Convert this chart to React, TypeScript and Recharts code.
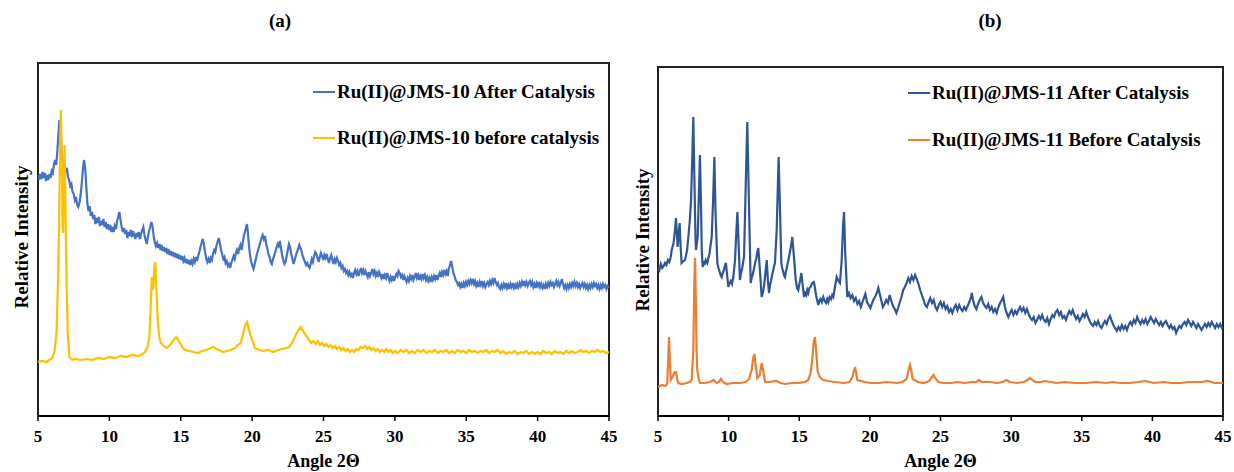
import React from "react";
import { LineChart, Line, XAxis, YAxis, Legend, ReferenceArea } from "recharts";

type Pt = [number, number];

// 2θ ticks shared by both panels
const angleTicks = [5, 10, 15, 20, 25, 30, 35, 40, 45];

// (a) Ru(II)@JMS-10 after catalysis — [2θ, intensity a.u.]
const jms10After: Pt[] = [
  [5.0, 247], [5.08, 242], [5.16, 248], [5.24, 243], [5.32, 250], [5.4, 244], [5.48, 249], [5.56, 241],
  [5.64, 247], [5.72, 242], [5.8, 248], [5.88, 244], [5.96, 251], [6.04, 249], [6.12, 258], [6.2, 262],
  [6.28, 257], [6.36, 272], [6.44, 290], [6.5, 302], [6.56, 296], [6.62, 280], [6.7, 262], [6.78, 252],
  [6.86, 258], [6.94, 250], [7.02, 254], [7.1, 245], [7.18, 242], [7.26, 236], [7.34, 238], [7.42, 230],
  [7.5, 228], [7.58, 222], [7.66, 225], [7.74, 217], [7.82, 215], [7.9, 219], [7.98, 226], [8.06, 238],
  [8.14, 252], [8.22, 262], [8.3, 255], [8.38, 236], [8.46, 218], [8.54, 211], [8.62, 216], [8.7, 206],
  [8.78, 210], [8.86, 203], [8.94, 207], [9.02, 198], [9.1, 204], [9.18, 199], [9.26, 205], [9.34, 196],
  [9.42, 201], [9.5, 197], [9.58, 203], [9.66, 195], [9.74, 200], [9.82, 193], [9.9, 198], [9.98, 192],
  [10.06, 197], [10.14, 190], [10.22, 195], [10.3, 190], [10.38, 196], [10.46, 193], [10.54, 201], [10.62, 205],
  [10.7, 210], [10.78, 202], [10.86, 195], [10.94, 190], [11.02, 194], [11.1, 188], [11.18, 192], [11.26, 184],
  [11.34, 190], [11.42, 186], [11.5, 192], [11.58, 185], [11.66, 191], [11.74, 187], [11.82, 183], [11.9, 189],
  [11.98, 185], [12.06, 190], [12.14, 183], [12.22, 188], [12.3, 192], [12.38, 195], [12.46, 187], [12.54, 182],
  [12.62, 178], [12.7, 185], [12.78, 191], [12.86, 195], [12.94, 200], [13.02, 196], [13.1, 186], [13.18, 180],
  [13.26, 176], [13.34, 179], [13.42, 174], [13.5, 178], [13.58, 172], [13.66, 177], [13.74, 171], [13.82, 175],
  [13.9, 170], [13.98, 174], [14.06, 168], [14.14, 173], [14.22, 167], [14.3, 171], [14.38, 166], [14.46, 170],
  [14.54, 165], [14.62, 169], [14.7, 164], [14.78, 168], [14.86, 163], [14.94, 167], [15.02, 162], [15.1, 166],
  [15.18, 161], [15.26, 164], [15.34, 159], [15.42, 163], [15.5, 158], [15.58, 162], [15.66, 157], [15.74, 161],
  [15.82, 158], [15.9, 163], [15.98, 160], [16.06, 165], [16.14, 161], [16.22, 166], [16.3, 170], [16.38, 175],
  [16.46, 179], [16.54, 183], [16.62, 178], [16.7, 170], [16.78, 164], [16.86, 160], [16.94, 163], [17.02, 159],
  [17.1, 164], [17.18, 162], [17.26, 168], [17.34, 172], [17.42, 170], [17.5, 176], [17.58, 180], [17.66, 184],
  [17.74, 179], [17.82, 172], [17.9, 168], [17.98, 163], [18.06, 165], [18.14, 159], [18.22, 161], [18.3, 156],
  [18.38, 158], [18.46, 154], [18.54, 159], [18.62, 162], [18.7, 166], [18.78, 163], [18.86, 169], [18.94, 172],
  [19.02, 168], [19.1, 174], [19.18, 177], [19.26, 172], [19.34, 179], [19.42, 186], [19.5, 190], [19.58, 195],
  [19.64, 198], [19.7, 190], [19.78, 176], [19.86, 166], [19.94, 160], [20.02, 156], [20.1, 153], [20.18, 158],
  [20.26, 163], [20.34, 168], [20.42, 172], [20.5, 176], [20.58, 180], [20.66, 184], [20.74, 187], [20.82, 183],
  [20.9, 186], [20.98, 178], [21.06, 174], [21.14, 168], [21.22, 165], [21.3, 160], [21.38, 158], [21.46, 163],
  [21.54, 166], [21.62, 170], [21.7, 174], [21.78, 178], [21.86, 176], [21.94, 181], [22.02, 174], [22.1, 167],
  [22.18, 162], [22.26, 158], [22.34, 160], [22.42, 166], [22.5, 172], [22.58, 178], [22.66, 175], [22.74, 168],
  [22.82, 163], [22.9, 158], [22.98, 162], [23.06, 166], [23.14, 170], [23.22, 173], [23.3, 177], [23.38, 174],
  [23.46, 171], [23.54, 166], [23.62, 163], [23.7, 160], [23.78, 157], [23.86, 159], [23.94, 156], [24.02, 154],
  [24.1, 158], [24.18, 163], [24.26, 160], [24.34, 166], [24.42, 170], [24.5, 168], [24.58, 164], [24.66, 160],
  [24.74, 165], [24.82, 169], [24.9, 166], [24.98, 162], [25.06, 167], [25.14, 164], [25.22, 168], [25.3, 163],
  [25.38, 159], [25.46, 164], [25.54, 167], [25.62, 162], [25.7, 158], [25.78, 163], [25.86, 160], [25.94, 164],
  [26.02, 161], [26.1, 157], [26.18, 159], [26.26, 154], [26.34, 156], [26.42, 151], [26.5, 153], [26.58, 149],
  [26.66, 151], [26.74, 147], [26.82, 150], [26.9, 146], [26.98, 148], [27.06, 144], [27.14, 149], [27.22, 152],
  [27.3, 148], [27.38, 151], [27.46, 146], [27.54, 150], [27.62, 154], [27.7, 149], [27.78, 152], [27.86, 147],
  [27.94, 151], [28.02, 148], [28.1, 145], [28.18, 150], [28.26, 146], [28.34, 149], [28.42, 153], [28.5, 148],
  [28.58, 151], [28.66, 146], [28.74, 149], [28.82, 145], [28.9, 150], [28.98, 147], [29.06, 144], [29.14, 148],
  [29.22, 143], [29.3, 147], [29.38, 144], [29.46, 149], [29.54, 145], [29.62, 141], [29.7, 145], [29.78, 142],
  [29.86, 146], [29.94, 141], [30.02, 145], [30.1, 148], [30.18, 146], [30.26, 151], [30.34, 149], [30.42, 145],
  [30.5, 147], [30.58, 142], [30.66, 146], [30.74, 143], [30.82, 140], [30.9, 144], [30.98, 141], [31.06, 146],
  [31.14, 143], [31.22, 147], [31.3, 142], [31.38, 145], [31.46, 149], [31.54, 144], [31.62, 147], [31.7, 142],
  [31.78, 146], [31.86, 143], [31.94, 148], [32.02, 144], [32.1, 147], [32.18, 142], [32.26, 145], [32.34, 141],
  [32.42, 144], [32.5, 140], [32.58, 145], [32.66, 142], [32.74, 146], [32.82, 143], [32.9, 147], [32.98, 142],
  [33.06, 146], [33.14, 149], [33.22, 145], [33.3, 150], [33.38, 147], [33.46, 152], [33.54, 148], [33.62, 151],
  [33.7, 146], [33.78, 153], [33.86, 157], [33.94, 161], [34.02, 155], [34.1, 149], [34.18, 146], [34.26, 142],
  [34.34, 140], [34.42, 137], [34.5, 139], [34.58, 135], [34.66, 138], [34.74, 134], [34.82, 139], [34.9, 136],
  [34.98, 140], [35.06, 137], [35.14, 141], [35.22, 138], [35.3, 142], [35.38, 139], [35.46, 143], [35.54, 138],
  [35.62, 141], [35.7, 136], [35.78, 139], [35.86, 135], [35.94, 140], [36.02, 137], [36.1, 141], [36.18, 136],
  [36.26, 139], [36.34, 135], [36.42, 138], [36.5, 140], [36.58, 137], [36.66, 141], [36.74, 138], [36.82, 142],
  [36.9, 139], [36.98, 144], [37.06, 140], [37.14, 137], [37.22, 139], [37.3, 135], [37.38, 133], [37.46, 137],
  [37.54, 134], [37.62, 138], [37.7, 135], [37.78, 139], [37.86, 134], [37.94, 137], [38.02, 133], [38.1, 138],
  [38.18, 135], [38.26, 139], [38.34, 134], [38.42, 137], [38.5, 133], [38.58, 138], [38.66, 135], [38.74, 139],
  [38.82, 136], [38.9, 140], [38.98, 136], [39.06, 141], [39.14, 137], [39.22, 140], [39.3, 136], [39.38, 139],
  [39.46, 141], [39.54, 137], [39.62, 140], [39.7, 135], [39.78, 138], [39.86, 134], [39.94, 139], [40.02, 136],
  [40.1, 140], [40.18, 135], [40.26, 138], [40.34, 134], [40.42, 137], [40.5, 133], [40.58, 138], [40.66, 135],
  [40.74, 139], [40.82, 136], [40.9, 140], [40.98, 137], [41.06, 139], [41.14, 135], [41.22, 138], [41.3, 141],
  [41.38, 137], [41.46, 140], [41.54, 136], [41.62, 139], [41.7, 143], [41.78, 138], [41.86, 134], [41.94, 137],
  [42.02, 133], [42.1, 137], [42.18, 134], [42.26, 138], [42.34, 135], [42.42, 139], [42.5, 136], [42.58, 140],
  [42.66, 136], [42.74, 139], [42.82, 135], [42.9, 138], [42.98, 134], [43.06, 137], [43.14, 139], [43.22, 135],
  [43.3, 138], [43.38, 134], [43.46, 137], [43.54, 133], [43.62, 137], [43.7, 134], [43.78, 138], [43.86, 135],
  [43.94, 139], [44.02, 136], [44.1, 138], [44.18, 134], [44.26, 137], [44.34, 133], [44.42, 137], [44.5, 134],
  [44.58, 138], [44.66, 135], [44.74, 137], [44.82, 133], [44.9, 136], [45.0, 134],
];

// (a) Ru(II)@JMS-10 before catalysis
const jms10Before: Pt[] = [
  [5.0, 60], [5.3, 61], [5.6, 60], [5.8, 62], [6.0, 64], [6.15, 70], [6.3, 90], [6.4, 140],
  [6.48, 200], [6.55, 280], [6.6, 312], [6.66, 270], [6.72, 200], [6.76, 189], [6.81, 240], [6.86, 277],
  [6.92, 220], [7.0, 139], [7.08, 90], [7.2, 65], [7.4, 62], [7.6, 63], [8.0, 62], [8.4, 63],
  [8.8, 62], [9.2, 64], [9.6, 63], [10.0, 65], [10.4, 64], [10.8, 66], [11.2, 65], [11.6, 67],
  [12.0, 66], [12.3, 68], [12.5, 70], [12.7, 76], [12.8, 85], [12.88, 110], [12.97, 145], [13.03, 132],
  [13.08, 135], [13.15, 155], [13.22, 160], [13.3, 130], [13.4, 99], [13.5, 85], [13.6, 79], [13.8, 76],
  [14.0, 74], [14.25, 77], [14.5, 82], [14.7, 85], [14.9, 80], [15.1, 75], [15.3, 72], [15.6, 71],
  [15.9, 70], [16.2, 69], [16.5, 71], [16.8, 72], [17.1, 74], [17.3, 75], [17.5, 73], [17.8, 71],
  [18.0, 70], [18.2, 71], [18.5, 72], [18.8, 74], [19.0, 77], [19.2, 79], [19.4, 90], [19.55, 98],
  [19.65, 100], [19.75, 94], [19.9, 86], [20.0, 82], [20.2, 74], [20.5, 72], [20.8, 71], [21.1, 72],
  [21.5, 70], [21.8, 72], [22.1, 73], [22.4, 74], [22.6, 75], [22.8, 79], [23.0, 85], [23.2, 91],
  [23.4, 95], [23.6, 90], [23.8, 86], [24.0, 82], [24.15, 79], [24.3, 81], [24.45, 78], [24.6, 81],
  [24.75, 77], [24.9, 79], [25.05, 76], [25.2, 78], [25.35, 75], [25.5, 77], [25.65, 74], [25.8, 76],
  [25.95, 73], [26.1, 75], [26.25, 72], [26.4, 74], [26.55, 71], [26.7, 73], [26.85, 70], [27.0, 72],
  [27.15, 70], [27.3, 73], [27.45, 72], [27.6, 75], [27.75, 74], [27.9, 76], [28.05, 73], [28.2, 75],
  [28.35, 72], [28.5, 74], [28.65, 71], [28.8, 73], [28.95, 70], [29.1, 72], [29.25, 70], [29.4, 73],
  [29.55, 70], [29.7, 72], [29.85, 69], [30.0, 71], [30.2, 69], [30.4, 72], [30.6, 70], [30.8, 72],
  [31.0, 69], [31.2, 71], [31.4, 69], [31.6, 72], [31.8, 70], [32.0, 72], [32.2, 69], [32.4, 71],
  [32.6, 70], [32.8, 72], [33.0, 69], [33.2, 71], [33.4, 70], [33.6, 72], [33.8, 69], [34.0, 71],
  [34.2, 69], [34.4, 72], [34.6, 70], [34.8, 71], [35.0, 69], [35.2, 72], [35.4, 70], [35.6, 71],
  [35.8, 69], [36.0, 71], [36.2, 70], [36.4, 72], [36.6, 69], [36.8, 71], [37.0, 70], [37.2, 72],
  [37.4, 69], [37.6, 71], [37.8, 68], [38.0, 70], [38.2, 69], [38.4, 71], [38.6, 68], [38.8, 70],
  [39.0, 69], [39.2, 71], [39.4, 68], [39.6, 70], [39.8, 68], [40.0, 70], [40.2, 68], [40.4, 71],
  [40.6, 69], [40.8, 70], [41.0, 68], [41.2, 71], [41.4, 69], [41.6, 70], [41.8, 68], [42.0, 71],
  [42.2, 69], [42.4, 71], [42.6, 69], [42.8, 70], [43.0, 72], [43.2, 70], [43.4, 71], [43.6, 69],
  [43.8, 71], [44.0, 70], [44.2, 72], [44.4, 70], [44.6, 71], [44.8, 69], [45.0, 70],
];

// (b) Ru(II)@JMS-11 after catalysis
const jms11After: Pt[] = [
  [5.0, 154], [5.1, 151], [5.2, 157], [5.3, 153], [5.4, 155], [5.5, 158], [5.6, 156], [5.7, 161],
  [5.8, 159], [5.9, 164], [5.97, 171], [6.1, 178], [6.2, 190],
  [6.27, 203], [6.33, 190], [6.39, 174], [6.46, 185], [6.53, 198], [6.6, 175], [6.67, 158], [6.8, 160],
  [6.91, 161], [7.05, 170], [7.15, 184], [7.25, 200], [7.34, 221], [7.42, 260], [7.5, 304], [7.58, 240],
  [7.65, 185], [7.69, 171], [7.75, 178], [7.81, 184], [7.9, 230], [7.97, 266], [8.04, 220], [8.1, 170],
  [8.16, 154], [8.23, 160], [8.3, 156], [8.38, 161], [8.49, 158], [8.57, 163], [8.65, 168], [8.8, 184],
  [8.9, 220], [8.99, 264], [9.07, 210],
  [9.2, 158], [9.28, 153], [9.35, 150], [9.43, 146], [9.51, 144], [9.58, 148], [9.65, 150], [9.73, 155],
  [9.81, 158], [9.9, 145], [9.98, 134], [10.07, 138], [10.15, 140], [10.24, 137],
  [10.33, 144], [10.45, 160], [10.55, 190], [10.62, 209], [10.7, 180], [10.8, 141], [10.88, 148], [10.95, 152],
  [11.02, 158], [11.09, 164], [11.2, 230], [11.32, 299], [11.42, 230], [11.56, 138], [11.63, 143], [11.7, 146],
  [11.76, 150], [11.82, 154], [11.89, 159], [11.95, 162], [12.02, 168], [12.1, 173],
  [12.22, 150], [12.34, 124], [12.45, 130], [12.53, 138], [12.62, 150], [12.7, 161], [12.78, 140], [12.86, 128],
  [12.93, 136], [13.0, 140], [13.08, 146], [13.16, 151], [13.22, 155], [13.28, 158], [13.4, 190], [13.54, 264],
  [13.64, 210], [13.73, 158], [13.79, 153], [13.85, 150], [13.92, 146],
  [13.99, 144], [14.05, 149], [14.1, 152], [14.17, 157], [14.23, 161], [14.3, 166], [14.38, 172], [14.45, 178],
  [14.51, 184], [14.62, 165], [14.75, 141], [14.85, 133],
  [14.93, 131], [15.05, 140], [15.15, 148], [15.25, 135], [15.34, 124], [15.42, 128], [15.5, 126], [15.57, 131],
  [15.64, 128], [15.72, 133], [15.8, 134], [15.92, 138],
  [16.04, 139], [16.2, 125], [16.35, 116], [16.42, 120], [16.5, 122], [16.6, 119], [16.7, 124], [16.8, 120],
  [16.9, 118], [16.98, 122], [17.06, 119], [17.15, 124], [17.25, 122], [17.33, 126],
  [17.41, 124], [17.55, 136], [17.65, 144], [17.78, 140], [17.88, 138], [18.0, 160], [18.1, 195], [18.17, 209],
  [18.25, 170], [18.4, 124], [18.52, 128], [18.64, 123], [18.76, 126], [18.88, 120], [19.0, 123], [19.12, 117],
  [19.24, 120], [19.36, 114], [19.48, 119], [19.6, 124], [19.68, 127], [19.8, 119], [19.92, 116], [20.04, 113],
  [20.16, 118], [20.28, 122], [20.4, 125], [20.52, 129], [20.6, 133], [20.7, 127], [20.8, 121], [20.92, 114],
  [21.04, 117], [21.16, 121], [21.28, 118], [21.4, 126], [21.52, 120], [21.64, 115], [21.76, 112], [21.88, 108],
  [22.0, 113], [22.12, 119], [22.24, 124], [22.36, 131], [22.48, 134], [22.6, 138], [22.72, 143], [22.84, 139],
  [22.96, 145], [23.08, 141], [23.2, 146], [23.32, 142], [23.44, 137], [23.56, 131], [23.68, 126], [23.8, 121],
  [23.92, 116], [24.04, 114], [24.16, 119], [24.28, 123], [24.4, 118], [24.52, 121], [24.64, 114], [24.76, 111],
  [24.88, 116], [25.0, 119], [25.12, 114], [25.24, 118], [25.36, 112], [25.48, 115], [25.6, 109], [25.72, 112],
  [25.84, 108], [25.96, 113], [26.08, 116], [26.2, 111], [26.32, 116], [26.44, 112], [26.56, 110], [26.68, 114],
  [26.8, 111], [26.92, 115], [27.04, 119], [27.16, 124], [27.22, 128], [27.3, 121], [27.42, 115], [27.54, 112],
  [27.66, 117], [27.78, 121], [27.9, 124], [28.02, 118], [28.14, 115], [28.26, 113], [28.38, 117], [28.5, 111],
  [28.62, 114], [28.74, 109], [28.86, 112], [28.98, 108], [29.1, 114], [29.22, 118], [29.34, 121], [29.44, 124],
  [29.56, 114], [29.68, 108], [29.8, 104], [29.92, 108], [30.04, 111], [30.16, 106], [30.28, 110], [30.4, 107],
  [30.52, 111], [30.64, 114], [30.76, 110], [30.88, 113], [31.0, 108], [31.12, 112], [31.24, 107], [31.36, 103],
  [31.48, 101], [31.6, 104], [31.72, 98], [31.84, 101], [31.96, 105], [32.08, 102], [32.2, 106], [32.32, 101],
  [32.44, 99], [32.56, 103], [32.68, 97], [32.8, 102], [32.92, 106], [33.04, 104], [33.16, 109], [33.28, 111],
  [33.4, 106], [33.52, 109], [33.64, 103], [33.76, 105], [33.88, 101], [34.0, 106], [34.12, 110], [34.24, 107],
  [34.36, 111], [34.48, 106], [34.6, 102], [34.72, 105], [34.84, 100], [34.96, 103], [35.08, 107], [35.2, 104],
  [35.32, 109], [35.44, 104], [35.56, 100], [35.68, 97], [35.8, 95], [35.92, 99], [36.04, 96], [36.16, 100],
  [36.28, 95], [36.4, 93], [36.52, 97], [36.64, 100], [36.76, 97], [36.88, 102], [37.0, 105], [37.12, 100],
  [37.24, 96], [37.36, 93], [37.48, 90], [37.6, 94], [37.72, 91], [37.84, 96], [37.96, 92], [38.08, 95],
  [38.2, 91], [38.32, 96], [38.44, 99], [38.56, 96], [38.68, 101], [38.8, 98], [38.92, 104], [39.04, 100],
  [39.16, 97], [39.28, 101], [39.4, 98], [39.52, 102], [39.64, 97], [39.76, 100], [39.88, 104], [40.0, 101],
  [40.12, 98], [40.24, 102], [40.36, 99], [40.48, 96], [40.6, 99], [40.72, 95], [40.84, 98], [40.96, 100],
  [41.08, 96], [41.2, 93], [41.32, 96], [41.44, 92], [41.56, 94], [41.68, 88], [41.8, 92], [41.92, 95],
  [42.04, 93], [42.16, 97], [42.28, 99], [42.4, 96], [42.52, 101], [42.64, 98], [42.76, 95], [42.88, 99],
  [43.0, 96], [43.12, 93], [43.24, 97], [43.36, 94], [43.48, 91], [43.6, 94], [43.72, 97], [43.84, 94],
  [43.96, 98], [44.08, 95], [44.2, 99], [44.32, 96], [44.44, 93], [44.56, 97], [44.68, 94], [44.8, 97],
  [44.92, 93], [45.0, 94],
];

// (b) Ru(II)@JMS-11 before catalysis
const jms11Before: Pt[] = [
  [5.0, 34], [5.3, 36], [5.5, 35], [5.65, 37], [5.72, 60], [5.78, 84], [5.84, 60], [5.9, 41],
  [6.0, 43], [6.09, 46], [6.18, 49], [6.27, 49], [6.36, 42], [6.44, 38], [6.7, 37], [7.03, 38],
  [7.25, 39], [7.38, 41], [7.5, 70], [7.56, 130], [7.62, 163], [7.68, 120], [7.73, 70], [7.78, 51],
  [7.88, 42], [7.97, 38], [8.3, 38], [8.7, 39], [8.92, 41], [9.15, 38], [9.3, 39], [9.46, 42],
  [9.6, 39], [9.86, 37], [10.3, 38], [10.8, 38], [11.2, 39], [11.45, 42], [11.63, 51], [11.73, 62],
  [11.82, 67], [11.92, 55], [12.03, 43], [12.2, 46], [12.34, 58], [12.45, 50], [12.58, 39], [12.9, 39],
  [13.35, 40], [13.7, 38], [14.0, 37], [14.5, 38], [15.0, 38], [15.4, 39], [15.64, 41], [15.8, 48],
  [15.92, 61], [16.02, 78], [16.11, 84], [16.2, 70], [16.3, 50], [16.45, 44], [16.7, 41], [17.06, 40],
  [17.5, 39], [18.2, 38], [18.55, 39], [18.76, 44], [18.87, 50], [18.95, 54], [19.03, 48], [19.11, 41],
  [19.4, 40], [19.65, 39], [20.1, 38], [20.6, 38], [21.2, 39], [21.9, 38], [22.3, 39], [22.6, 42],
  [22.72, 50], [22.84, 56], [22.94, 50], [23.03, 42], [23.4, 39], [23.8, 38], [24.2, 40], [24.4, 44],
  [24.5, 46], [24.62, 43], [24.85, 39], [25.2, 38], [25.7, 38], [26.2, 39], [26.7, 38], [27.2, 39],
  [27.55, 39], [27.7, 41], [27.9, 39], [28.5, 39], [29.0, 38], [29.4, 39], [29.68, 41], [29.9, 39],
  [30.4, 38], [30.9, 39], [31.15, 41], [31.34, 43], [31.5, 41], [31.7, 39], [32.1, 39], [32.4, 40],
  [32.8, 39], [33.2, 38], [33.8, 39], [34.5, 38], [35.3, 38], [36.0, 39], [36.7, 38], [37.2, 39],
  [37.7, 38], [38.4, 38], [39.0, 39], [39.5, 40], [40.1, 38], [40.8, 39], [41.4, 38], [42.0, 38],
  [42.6, 39], [43.0, 39], [43.5, 39], [43.9, 40], [44.4, 38], [45.0, 38],
];

const FONT = "'Liberation Serif', 'Times New Roman', serif";

const toPoints = (arr: Pt[]) => arr.map(([x, y]) => ({ x, y }));

interface SeriesDef {
  name: string;
  color: string;
  data: Pt[];
}

interface PanelProps {
  left: number;
  width: number;
  top: number;
  rightMargin: number;
  yMin: number;
  yMax: number;
  series: SeriesDef[];
  legendLeft: number;
  legendTop: number;
  legendGap: number;
}

function LegendBox({ series, gap }: { series: SeriesDef[]; gap: number }) {
  return (
    <div style={{ fontFamily: FONT, fontWeight: "bold", fontSize: 19, color: "#000" }}>
      {series.map((s, i) => (
        <div
          key={s.name}
          style={{
            display: "flex",
            alignItems: "center",
            height: 24,
            marginBottom: i === 0 ? gap : 0,
            whiteSpace: "nowrap",
          }}
        >
          <span style={{ display: "inline-block", width: 22, height: 0, borderTop: `2.5px solid ${s.color}`, marginRight: 2 }} />
          <span>{s.name}</span>
        </div>
      ))}
    </div>
  );
}

function Panel(p: PanelProps) {
  return (
    <div style={{ position: "absolute", left: p.left, top: 0 }}>
      <LineChart width={p.width} height={472} margin={{ top: p.top, right: p.rightMargin, bottom: 0, left: 38 }}>
        <XAxis
          dataKey="x"
          type="number"
          domain={[5, 45]}
          ticks={angleTicks}
          allowDataOverflow
          height={56}
          tickSize={5}
          tickMargin={9}
          axisLine={{ stroke: "#000", strokeWidth: 2 }}
          tickLine={{ stroke: "#000", strokeWidth: 1.5 }}
          tick={{ fill: "#000", fontSize: 17, fontWeight: "bold", fontFamily: FONT }}
          label={{
            value: "Angle 2Θ",
            position: "insideBottom",
            offset: 5,
            fill: "#000",
            fontSize: 18,
            fontWeight: "bold",
            fontFamily: FONT,
          }}
        />
        <YAxis type="number" domain={[p.yMin, p.yMax]} hide allowDataOverflow />
        <ReferenceArea
          x1={5}
          x2={45}
          y1={p.yMin}
          y2={p.yMax}
          fill="none"
          fillOpacity={0}
          stroke="#222"
          strokeWidth={2}
          ifOverflow="visible"
        />
        <Legend
          layout="horizontal"
          verticalAlign="middle"
          align="center"
          content={() => <LegendBox series={p.series} gap={p.legendGap} />}
          wrapperStyle={{ left: p.legendLeft, top: p.legendTop, width: "auto" }}
        />
        {p.series.map((s) => (
          <Line
            key={s.name}
            name={s.name}
            data={toPoints(s.data)}
            dataKey="y"
            stroke={s.color}
            strokeWidth={2.2}
            dot={false}
            isAnimationActive={false}
          />
        ))}
      </LineChart>
    </div>
  );
}

const titleStyle: React.CSSProperties = {
  position: "absolute",
  fontFamily: FONT,
  fontWeight: "bold",
  fontSize: 19,
  color: "#000",
  whiteSpace: "nowrap",
};

export default function App() {
  return (
    <div style={{ position: "absolute", left: 0, top: 0, width: 1234, height: 472, background: "#fff", overflow: "hidden" }}>
      <Panel
        left={0}
        width={620}
        top={63}
        rightMargin={11}
        yMin={6}
        yMax={359}
        legendLeft={313}
        legendTop={80}
        legendGap={22}
        series={[
          { name: "Ru(II)@JMS-10 After Catalysis", color: "#4472C4", data: jms10After },
          { name: "Ru(II)@JMS-10 before catalysis", color: "#FFC000", data: jms10Before },
        ]}
      />
      <Panel
        left={620}
        width={614}
        top={67}
        rightMargin={11}
        yMin={5}
        yMax={354}
        legendLeft={288}
        legendTop={81}
        legendGap={23}
        series={[
          { name: "Ru(II)@JMS-11 After Catalysis", color: "#2F5597", data: jms11After },
          { name: "Ru(II)@JMS-11 Before Catalysis", color: "#ED7D31", data: jms11Before },
        ]}
      />
      <div style={{ ...titleStyle, left: 280, top: 21, transform: "translate(-50%, -50%)" }}>(a)</div>
      <div style={{ ...titleStyle, left: 990, top: 21, transform: "translate(-50%, -50%)" }}>(b)</div>
      <div style={{ ...titleStyle, left: 22, top: 237, transform: "translate(-50%, -50%) rotate(-90deg)" }}>Relative Intensity</div>
      <div style={{ ...titleStyle, left: 643, top: 240, transform: "translate(-50%, -50%) rotate(-90deg)" }}>Relative Intensity</div>
    </div>
  );
}
